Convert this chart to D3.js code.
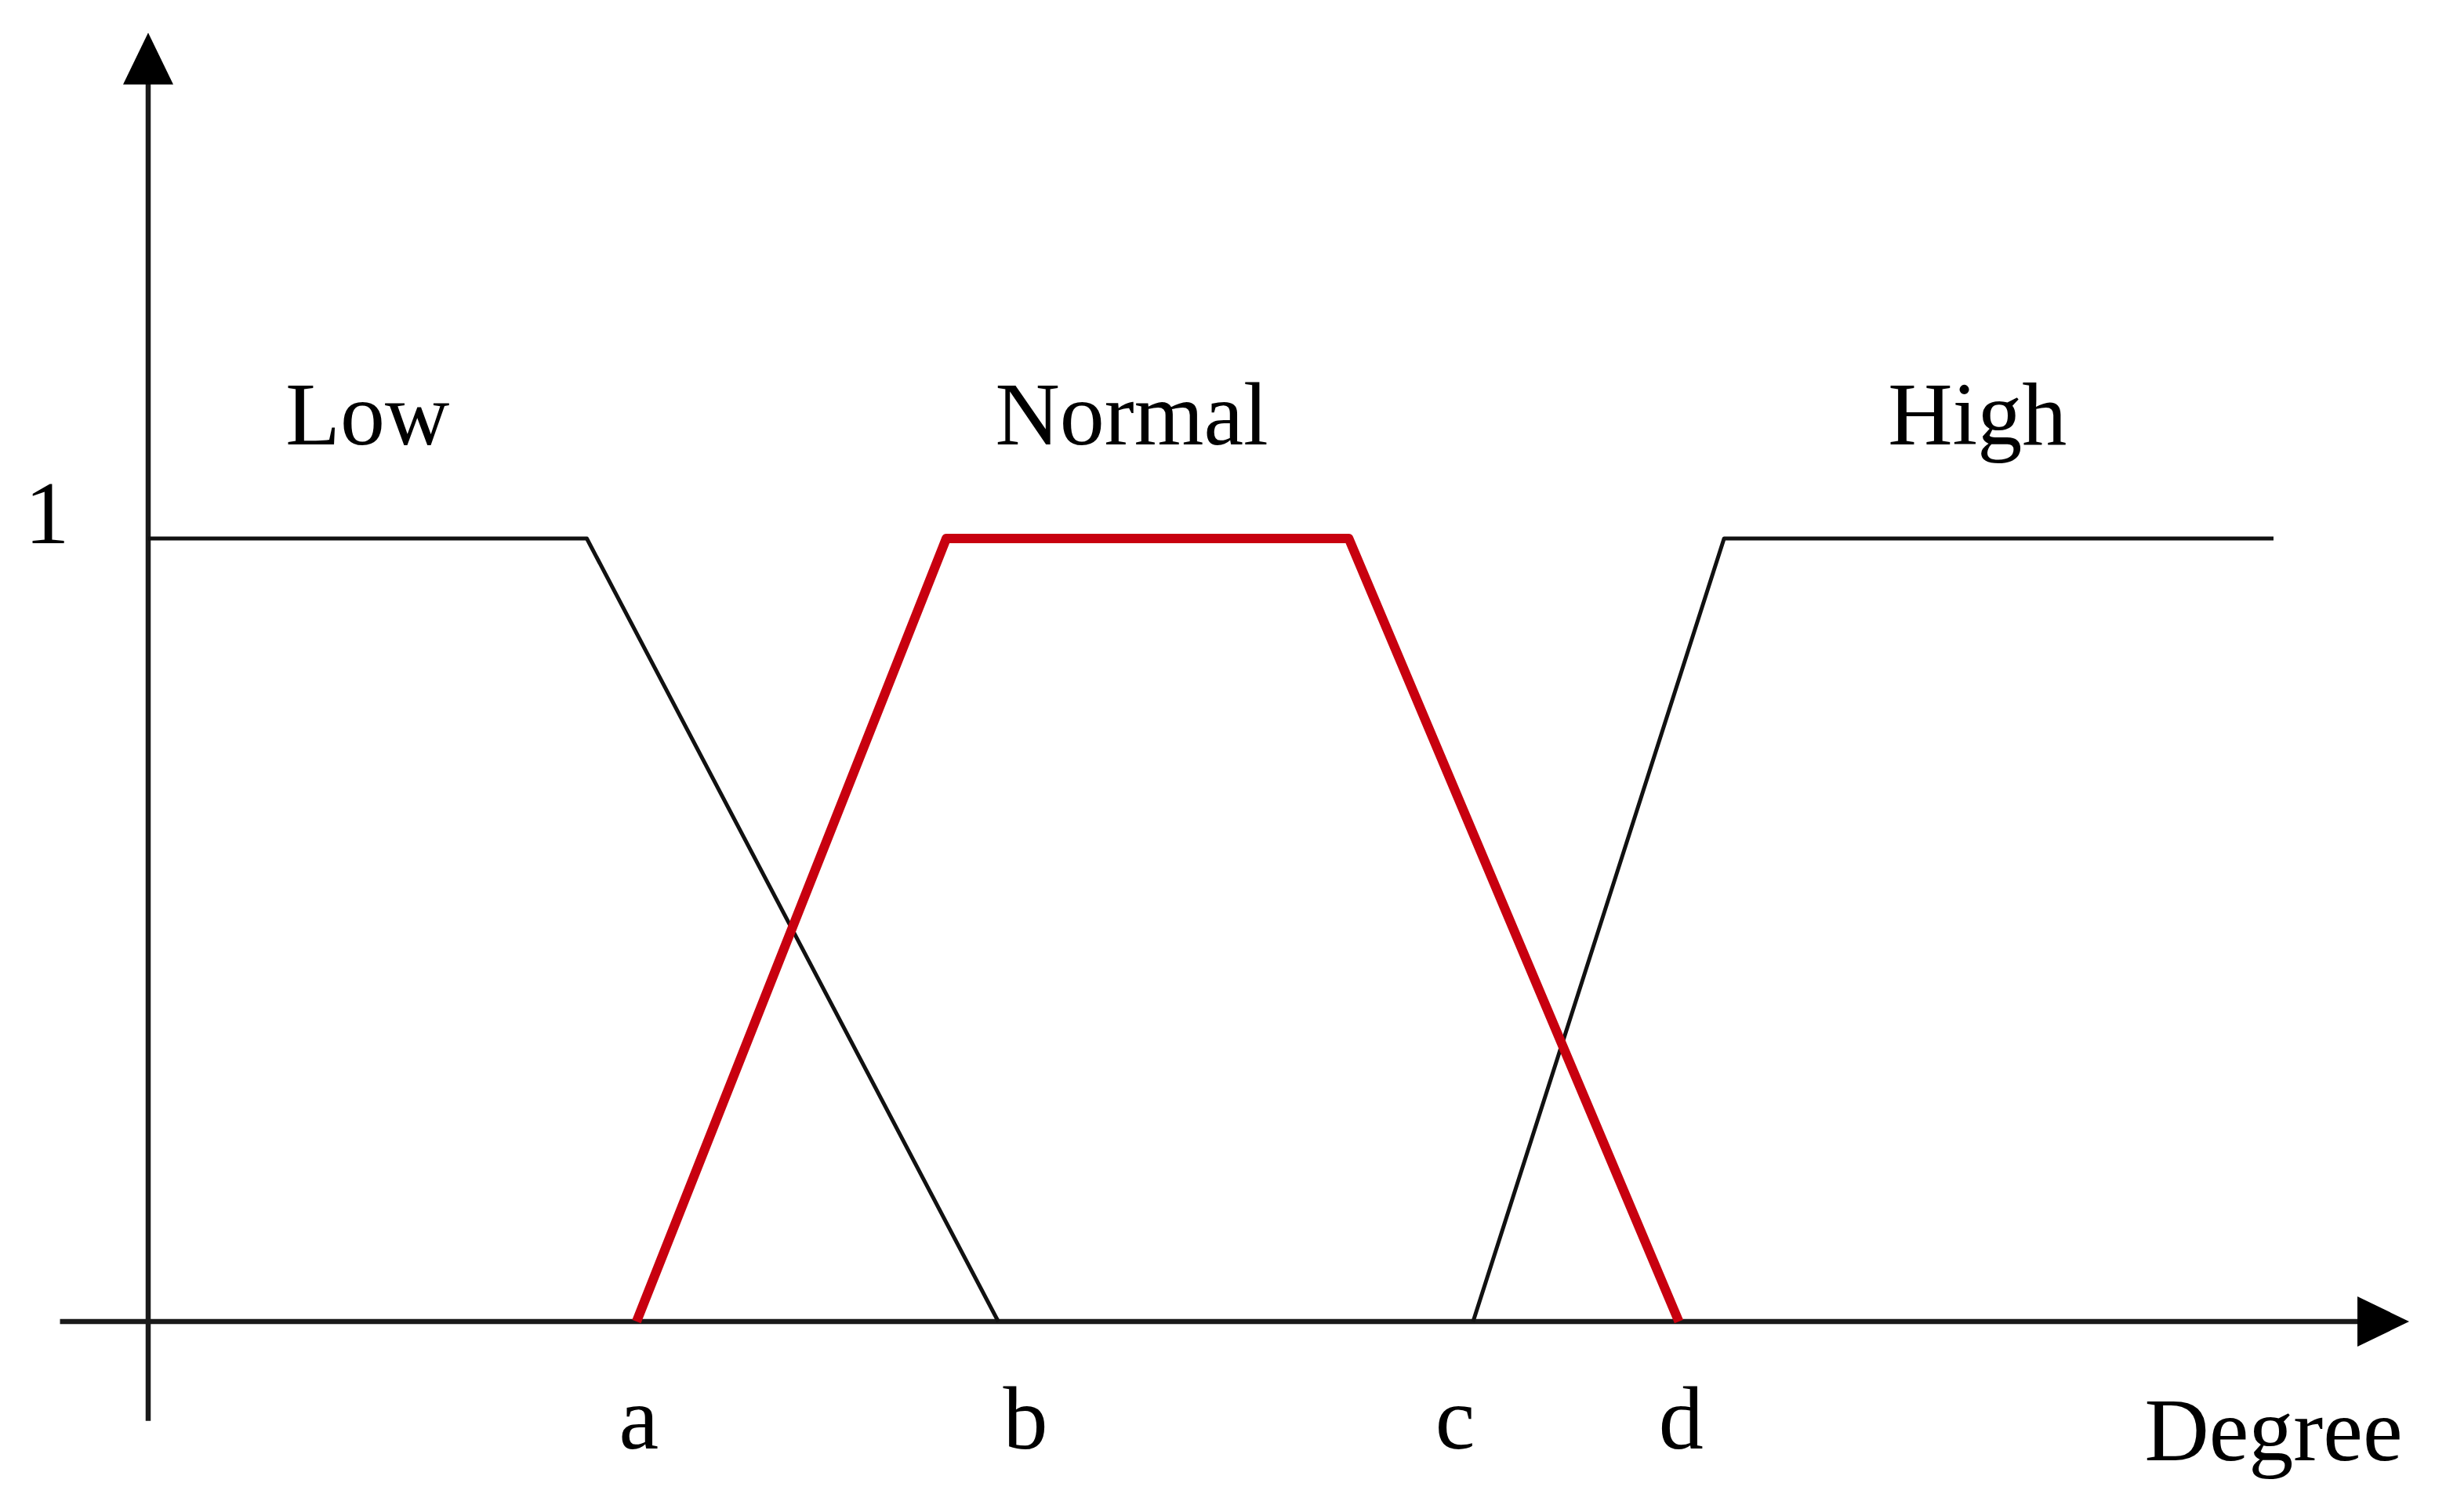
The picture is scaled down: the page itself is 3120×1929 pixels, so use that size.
<!DOCTYPE html>
<html>
<head>
<meta charset="utf-8">
<script src="https://cdn.jsdelivr.net/npm/d3@7"></script>
<style>
  html, body { margin: 0; padding: 0; background: #ffffff; }
  svg { display: block; }
  text { font-family: "Liberation Serif", "DejaVu Serif", serif; fill: #000; }
</style>
</head>
<body>
<script>
// ---- data (x in degree units 0..100, y in membership 0..1) ----
const setNames = ["Low", "Normal", "High"];
const lowX  = [0, 19.4, 37.6];
const lowY  = [1, 1, 0];
const normalX = [21.6, 35.3, 53.1, 67.7];
const normalY = [0, 1, 1, 0];
const highX = [58.6, 69.7, 94.0];
const highY = [0, 1, 1];
const setLabelX = [9.7, 43.5, 80.9];
const setLabelY = 1.12;
const tickLabels = ["a", "b", "c", "d"];
const tickLabelX = [21.7, 38.8, 57.8, 67.8];
const yTickValues = [1];
const yTickLabels = ["1"];
const xAxisTitle = "Degree";
const xAxisTitleX = 94.0;
const xAxisExtent = [-3.9, 100];
const yAxisExtent = [-0.127, 1.646];

// ---- layout ----
const W = 3120, H = 1929;
const x = d3.scaleLinear().domain([0, 100]).range([189, 3073]);
const y = d3.scaleLinear().domain([0, 1]).range([1686, 687]);

const svg = d3.select("body").append("svg").attr("width", W).attr("height", H);

const fs = 114;
const arrowLen = 66, arrowHalf = 32;

// axes
const axisColor = "#1a1a1a";
svg.append("line")
  .attr("x1", x(xAxisExtent[0])).attr("x2", x(xAxisExtent[1]) - arrowLen + 2)
  .attr("y1", y(0)).attr("y2", y(0))
  .attr("stroke", axisColor).attr("stroke-width", 6.5);
svg.append("path")
  .attr("d", `M${x(xAxisExtent[1])},${y(0)} L${x(xAxisExtent[1]) - arrowLen},${y(0) - arrowHalf} L${x(xAxisExtent[1]) - arrowLen},${y(0) + arrowHalf} Z`)
  .attr("fill", "#000");

svg.append("line")
  .attr("x1", x(0)).attr("x2", x(0))
  .attr("y1", y(yAxisExtent[0])).attr("y2", y(yAxisExtent[1]) + arrowLen - 2)
  .attr("stroke", axisColor).attr("stroke-width", 6.5);
svg.append("path")
  .attr("d", `M${x(0)},${y(yAxisExtent[1])} L${x(0) - arrowHalf},${y(yAxisExtent[1]) + arrowLen} L${x(0) + arrowHalf},${y(yAxisExtent[1]) + arrowLen} Z`)
  .attr("fill", "#000");

// membership functions
const line = d3.line().x(d => x(d[0])).y(d => y(d[1]));
const series = [
  { name: setNames[0], pts: d3.zip(lowX, lowY), color: "#111", w: 5 },
  { name: setNames[2], pts: d3.zip(highX, highY), color: "#111", w: 5 },
  { name: setNames[1], pts: d3.zip(normalX, normalY), color: "#c8000f", w: 12 }
];
svg.selectAll("path.mf").data(series).enter().append("path")
  .attr("class", "mf")
  .attr("d", d => line(d.pts))
  .attr("fill", "none")
  .attr("stroke", d => d.color)
  .attr("stroke-width", d => d.w)
  .attr("stroke-linejoin", "round");

// set labels
svg.selectAll("text.setlabel").data(setNames).enter().append("text")
  .attr("class", "setlabel")
  .attr("x", (d, i) => x(setLabelX[i]))
  .attr("y", y(setLabelY))
  .attr("text-anchor", "middle")
  .attr("font-size", fs)
  .text(d => d);

// y tick labels
svg.selectAll("text.ytick").data(yTickValues).enter().append("text")
  .attr("class", "ytick")
  .attr("x", 60)
  .attr("y", d => y(d) + 6)
  .attr("text-anchor", "middle")
  .attr("font-size", fs)
  .text((d, i) => yTickLabels[i]);

// x tick labels
svg.selectAll("text.xtick").data(tickLabels).enter().append("text")
  .attr("class", "xtick")
  .attr("x", (d, i) => x(tickLabelX[i]))
  .attr("y", y(0) + 162)
  .attr("text-anchor", "middle")
  .attr("font-size", fs)
  .text(d => d);

// x axis title
svg.append("text")
  .attr("x", x(xAxisTitleX))
  .attr("y", y(0) + 177)
  .attr("text-anchor", "middle")
  .attr("font-size", fs)
  .text(xAxisTitle);
</script>
</body>
</html>
